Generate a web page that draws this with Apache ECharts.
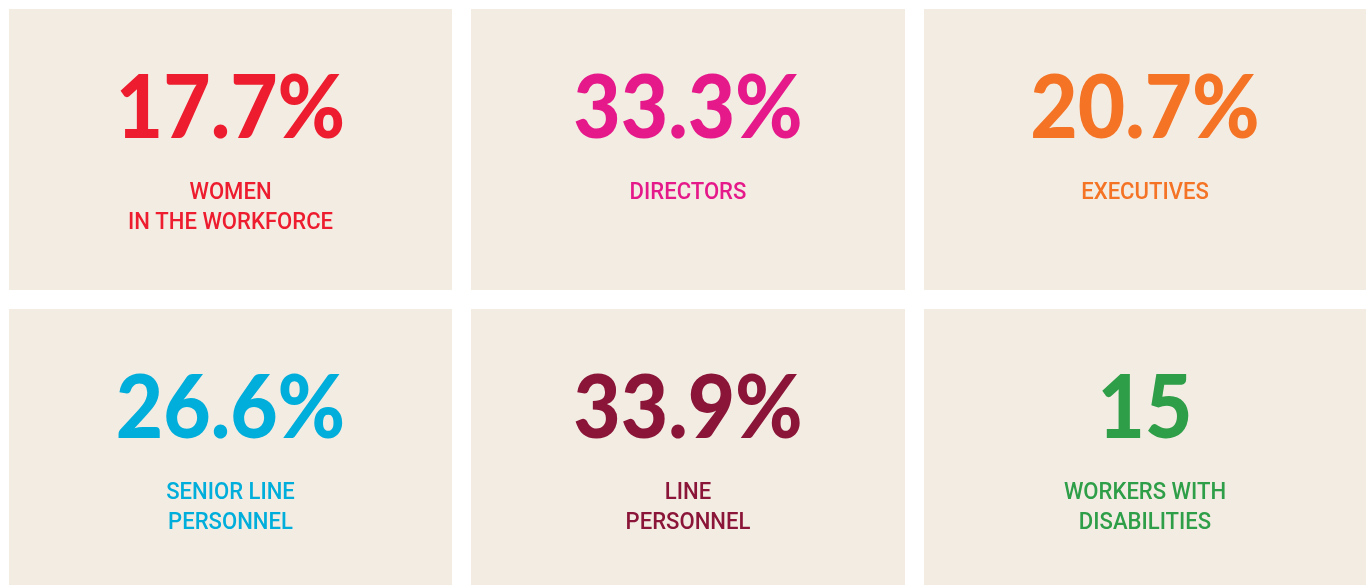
<!DOCTYPE html>
<html>
<head>
<meta charset="utf-8">
<script src="https://cdn.jsdelivr.net/npm/echarts@6/dist/echarts.min.js"></script>
<style>
  html, body { margin: 0; padding: 0; background: #ffffff; }
  #main { width: 1366px; height: 585px; }
</style>
</head>
<body>
<div id="main"></div>
<script>
  // values and labels
  let values = ['17.7%', '33.3%', '20.7%', '26.6%', '33.9%', '15'];
  let labels = [
    ['WOMEN', 'IN THE WORKFORCE'],
    ['DIRECTORS'],
    ['EXECUTIVES'],
    ['SENIOR LINE', 'PERSONNEL'],
    ['LINE', 'PERSONNEL'],
    ['WORKERS WITH', 'DISABILITIES']
  ];
  let colors = ['#ed1c2e', '#e5198a', '#f47324', '#00aedb', '#8a1538', '#2e9e48'];

  let chart = echarts.init(document.getElementById('main'));

  // tile grid
  let colX = [[9, 452], [471, 905], [924, 1366]];
  let rowY = [[9, 290], [309, 585]];

  let elements = [];
  values.forEach((val, i) => {
    let c = colX[i % 3];
    let r = rowY[Math.floor(i / 3)];
    let cx = (c[0] + c[1]) / 2;
    elements.push({
      type: 'rect',
      shape: { x: c[0], y: r[0], width: c[1] - c[0], height: r[1] - r[0] },
      style: { fill: '#f3ece3' },
      silent: true
    });
    elements.push({
      type: 'text',
      x: cx,
      y: r[0] + 101,
      scaleX: 0.93,
      style: {
        text: val,
        fill: colors[i],
        font: '900 88px Lato, "DejaVu Sans", sans-serif',
        align: 'center',
        verticalAlign: 'middle'
      }
    });
    labels[i].forEach((line, j) => {
      elements.push({
        type: 'text',
        x: cx,
        y: r[0] + 184 + j * 30,
        scaleX: 0.92,
        style: {
          text: line,
          fill: colors[i],
          font: '500 24px Roboto, sans-serif',
          align: 'center',
          verticalAlign: 'middle'
        }
      });
    });
  });

  chart.setOption({
    animation: false,
    graphic: { elements: elements }
  });
</script>
</body>
</html>
